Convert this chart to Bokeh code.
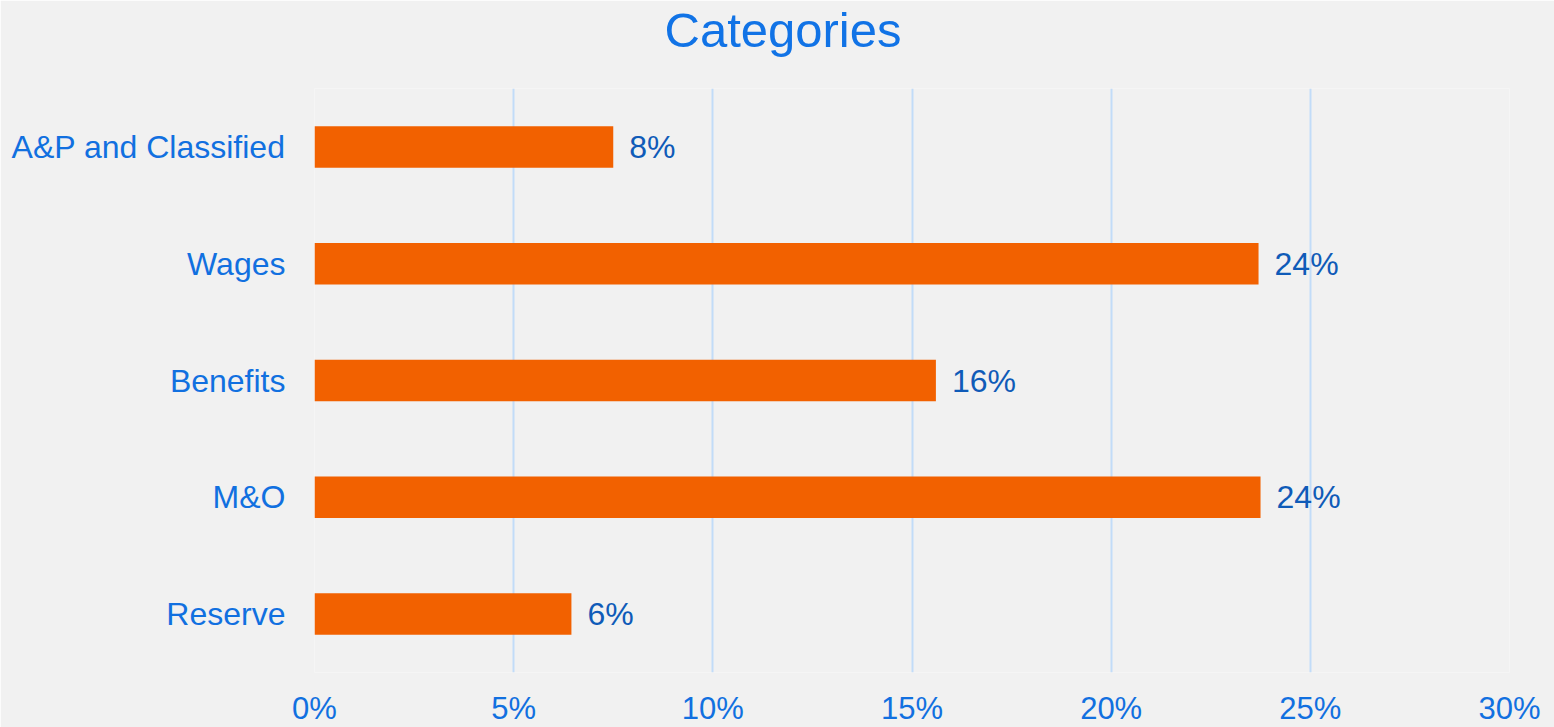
from bokeh.plotting import figure
from bokeh.models import Range1d, FactorRange, ColumnDataSource, FixedTicker, CustomJSTickFormatter, Title
from bokeh.core.properties import value
from bokeh.embed import file_html
from bokeh.resources import INLINE

categories = ["A&P and Classified", "Wages", "Benefits", "M&O", "Reserve"]
values = [7.5, 23.7, 15.6, 23.75, 6.45]
labels = ["8%", "24%", "16%", "24%", "6%"]
x_ticks = [0, 5, 10, 15, 20, 25, 30]
chart_title = "Categories"

FONT = "Liberation Sans"
BG = "#f1f1f1"

src = ColumnDataSource(dict(cat=categories, val=values, lab=labels))

p = figure(
    title=None,
    y_range=FactorRange(factors=list(reversed(categories))),
    x_range=Range1d(0, 30),
    frame_width=1195, frame_height=584,
    output_backend="svg", toolbar_location=None,
)
p.min_border_left = 314
p.min_border_right = 45
p.min_border_top = 88
p.min_border_bottom = 50
p.background_fill_color = BG
p.border_fill_color = BG
p.outline_line_color = None

# spacer panel between frame and title
spacer = Title(text=" ", text_font=FONT, text_font_size="20px", standoff=8,
               text_color=BG)
p.add_layout(spacer, "above")
main_title = Title(text=chart_title, align="left", offset=350, standoff=0,
                   text_font=FONT, text_font_size="49px", text_font_style="normal",
                   text_color="#1173e6")
p.add_layout(main_title, "above")

p.hbar(y="cat", right="val", left=0, height=0.355, source=src,
       fill_color="#f26100", line_color=None)

p.text(x="val", y="cat", text="lab", source=src, x_offset=16,
       text_baseline="middle", text_align="left",
       text_font=value(FONT), text_font_size="32px", text_color="#0f5bb8")

p.xaxis.ticker = FixedTicker(ticks=x_ticks)
p.xaxis.formatter = CustomJSTickFormatter(code="return tick + '%';")
p.xaxis.axis_line_color = None
p.xaxis.major_tick_line_color = None
p.xaxis.minor_tick_line_color = None
p.xaxis.major_tick_out = 0
p.xaxis.major_tick_in = 0
p.xaxis.major_label_standoff = 18
p.xaxis.major_label_text_font = FONT
p.xaxis.major_label_text_font_size = "31px"
p.xaxis.major_label_text_color = "#1170e0"

p.yaxis.axis_line_color = None
p.yaxis.major_tick_line_color = None
p.yaxis.minor_tick_line_color = None
p.yaxis.major_tick_out = 0
p.yaxis.major_tick_in = 0
p.yaxis.major_label_standoff = 29
p.yaxis.major_label_text_font = FONT
p.yaxis.major_label_text_font_size = "32px"
p.yaxis.major_label_text_color = "#1170e0"

p.xgrid.ticker = FixedTicker(ticks=x_ticks)
p.xgrid.grid_line_color = "#c2dcf8"
p.xgrid.grid_line_width = 2
p.ygrid.grid_line_color = None

open("out.html", "w").write(file_html(p, INLINE))
